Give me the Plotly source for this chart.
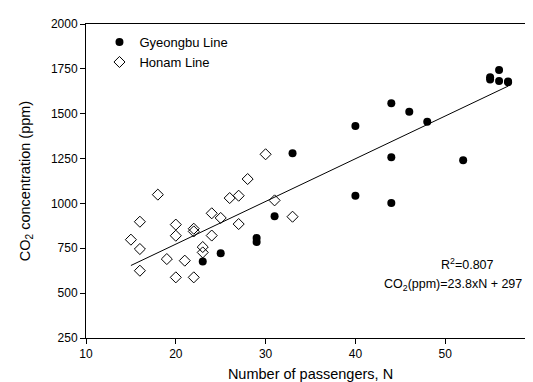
import plotly.graph_objects as go

# Gyeongbu Line (filled circles)
gy_n = [40, 44, 46, 48, 44, 52, 40, 44, 56, 55, 55, 56, 57, 57, 33, 31, 29, 29, 25, 23]
gy_co2 = [1431, 1558, 1511, 1455, 1257, 1240, 1043, 1002, 1744, 1703, 1690, 1682, 1680, 1675,
          1279, 928, 807, 785, 722, 677]

# Honam Line (open diamonds)
hn_n = [18, 16, 15, 16, 16, 20, 20, 22, 22, 19, 21, 20, 22, 23, 23, 24, 24, 30, 28, 26, 27, 31, 33, 25, 27]
hn_co2 = [1049, 898, 798, 746, 625, 882, 820, 859, 844, 690, 681, 588, 588, 757, 727, 945, 821,
          1274, 1136, 1030, 1043, 1017, 926, 919, 885]

# Regression
slope = 23.8
intercept = 297
r2_text = "R<sup>2</sup>=0.807"
eq_text = "CO<sub>2</sub>(ppm)=23.8xN + 297"

x_ticks = [10, 20, 30, 40, 50, 60]
y_ticks = [250, 500, 750, 1000, 1250, 1500, 1750, 2000]

all_n = gy_n + hn_n
fit_x = [min(all_n), max(all_n)]
fit_y = [slope * v + intercept for v in fit_x]

FONT = "Liberation Sans, Arial, sans-serif"

fig = go.Figure()
fig.add_trace(go.Scatter(x=fit_x, y=fit_y, mode="lines", line=dict(color="black", width=1),
                         showlegend=False, hoverinfo="skip"))
fig.add_trace(go.Scatter(x=gy_n, y=gy_co2, mode="markers", name="Gyeongbu Line",
                         marker=dict(symbol="circle", size=8, color="black",
                                     line=dict(color="black", width=0))))
fig.add_trace(go.Scatter(x=hn_n, y=hn_co2, mode="markers", name="Honam Line",
                         marker=dict(symbol="diamond-open", size=8.5, color="black",
                                     line=dict(color="black", width=1))))

fig.add_annotation(x=0.85, y=0.235, xref="paper", yref="paper", text=r2_text, showarrow=False,
                   font=dict(family=FONT, size=12.5, color="black"), xanchor="center", yanchor="middle")
fig.add_annotation(x=0.975, y=0.169, xref="paper", yref="paper", text=eq_text, showarrow=False,
                   font=dict(family=FONT, size=12.5, color="black"), xanchor="right", yanchor="middle")

axis_common = dict(showline=True, linecolor="black", linewidth=1, mirror=True,
                   ticks="outside", ticklen=5, tickcolor="black", tickwidth=1,
                   showgrid=False, zeroline=False,
                   tickfont=dict(family=FONT, size=12, color="black"))

fig.update_layout(
    width=533, height=382,
    margin=dict(l=78, r=6, t=16, b=52),
    paper_bgcolor="white", plot_bgcolor="white",
    font=dict(family=FONT, color="black"),
    xaxis=dict(range=[10, 60], tickvals=x_ticks,
               title=dict(text="Number of passengers, N", font=dict(family=FONT, size=14.5), standoff=8),
               **axis_common),
    yaxis=dict(range=[250, 2000], tickvals=y_ticks,
               title=dict(text="CO<sub>2</sub> concentration (ppm)", font=dict(family=FONT, size=14.5), standoff=16),
               **axis_common),
    legend=dict(x=0.03, y=0.99, xanchor="left", yanchor="top", bgcolor="rgba(0,0,0,0)",
                tracegroupgap=0,
                font=dict(family=FONT, size=13, color="black")),
)

fig.write_html("out.html")
